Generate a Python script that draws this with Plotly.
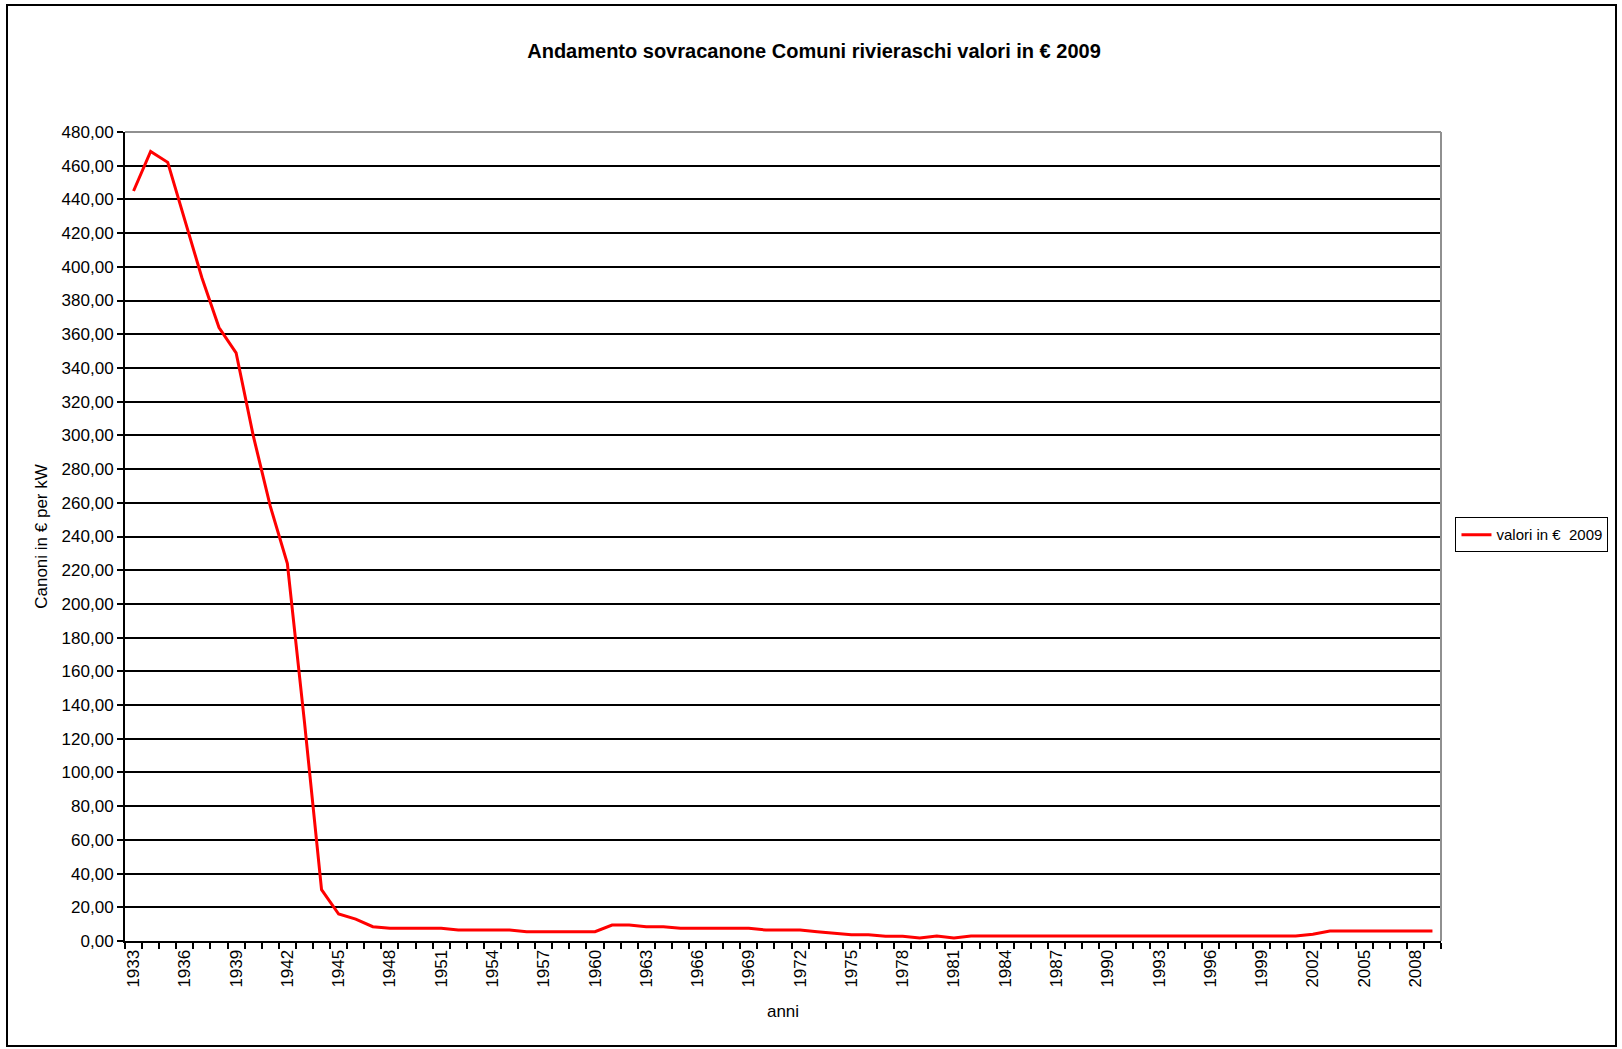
import plotly.graph_objects as go

# Anni (asse delle categorie) e valori del sovracanone in € 2009 per kW
years = list(range(1933, 2010))
values = [
    445.0, 468.5, 462.0, 428.0, 393.5, 364.0, 349.0, 300.0, 258.0, 224.0,
    130.0, 30.5, 16.0, 13.0, 8.5, 7.5, 7.5, 7.5, 7.5, 6.5,
    6.5, 6.5, 6.5, 5.5, 5.5, 5.5, 5.5, 5.5, 9.5, 9.5,
    8.5, 8.5, 7.5, 7.5, 7.5, 7.5, 7.5, 6.5, 6.5, 6.5,
    5.5, 4.5, 3.7, 3.7, 2.8, 2.8, 1.8, 2.9, 1.8, 2.9,
    2.9, 2.9, 2.9, 2.9, 2.9, 2.9, 2.9, 2.9, 2.9, 2.9,
    2.9, 2.9, 2.9, 2.9, 2.9, 2.9, 2.9, 2.9, 2.9, 4.0,
    5.9, 5.9, 5.9, 5.9, 5.9, 5.9, 5.9,
]
tick_years = list(range(1933, 2010, 3))

title_text = "Andamento sovracanone Comuni rivieraschi valori in € 2009"
series_name = "valori in €  2009"
y_title = "Canoni in € per kW"
x_title = "anni"

FONT = "Liberation Sans Narrow, Arial Narrow, Liberation Sans, Arial, sans-serif"

fig = go.Figure()
fig.add_trace(go.Scatter(
    x=years, y=values, mode="lines", name=series_name,
    line=dict(color="#ff0000", width=3),
))

fig.update_layout(
    width=1622, height=1049,
    margin=dict(l=125, r=181, t=132, b=108),
    paper_bgcolor="white", plot_bgcolor="white",
    separators=",.",
    font=dict(family=FONT, size=17, color="black"),
    title=dict(
        text="<b>" + title_text + "</b>",
        x=(814 / 1622), xanchor="center", xref="container",
        y=1 - 51 / 1049, yanchor="middle", yref="container",
        font=dict(family=FONT, size=20, color="black"),
    ),
    showlegend=True,
    legend=dict(
        x=1.011, xanchor="left", y=0.502, yanchor="middle",
        bgcolor="white", bordercolor="black", borderwidth=1,
        font=dict(family=FONT, size=15, color="black"),
        itemwidth=30,
    ),
)

fig.update_xaxes(
    range=[1932.5, 2009.5],
    tickmode="array", tickvals=tick_years, ticktext=[str(y) for y in tick_years],
    tickangle=-90, ticks="",
    tickfont=dict(family=FONT, size=17, color="black"),
    showgrid=False, zeroline=False,
    showline=True, linecolor="black", linewidth=2,
    minor=dict(tickmode="linear", tick0=1932.5, dtick=1, ticks="outside",
               ticklen=6, tickwidth=1.5, tickcolor="black", showgrid=False),
    title=dict(text=x_title, standoff=18,
               font=dict(family=FONT, size=17, color="black")),
)

fig.update_yaxes(
    range=[0, 480], tickmode="linear", tick0=0, dtick=20,
    tickformat=".2f",
    ticks="outside", ticklen=6, tickwidth=1.5, tickcolor="black",
    tickfont=dict(family=FONT, size=17, color="black"),
    showgrid=True, gridcolor="black", gridwidth=1.5,
    zeroline=False,
    showline=True, linecolor="black", linewidth=2,
    title=dict(text=y_title, standoff=10,
               font=dict(family=FONT, size=17, color="black")),
)

# Bordo superiore e destro dell'area del grafico (grigio)
fig.add_shape(type="line", xref="paper", yref="paper", x0=0, x1=1, y0=1, y1=1,
              line=dict(color="#909090", width=2), layer="above")
fig.add_shape(type="line", xref="paper", yref="paper", x0=1, x1=1, y0=0, y1=1,
              line=dict(color="#909090", width=2), layer="above")

# Cornice esterna dell'intero grafico
fig.add_shape(type="rect", xref="paper", yref="paper",
              x0=(7 - 125) / 1316, x1=(1616 - 125) / 1316,
              y0=(941 - 1046) / 809, y1=(941 - 5) / 809,
              line=dict(color="black", width=2), fillcolor="rgba(0,0,0,0)",
              layer="above")

fig.write_html("out.html")
